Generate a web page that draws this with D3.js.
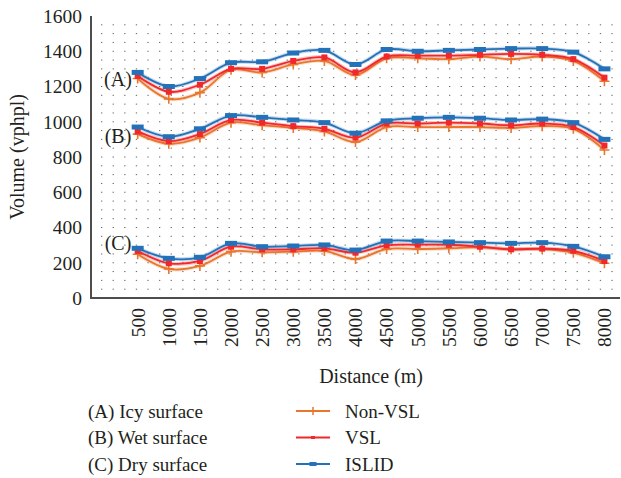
<!DOCTYPE html>
<html>
<head>
<meta charset="utf-8">
<script src="https://cdn.jsdelivr.net/npm/d3@7"></script>
<style>
  body { margin: 0; background: #fff; }
</style>
</head>
<body>
<div id="chart"></div>
<script>
// distances along the corridor (m)
const distances = [500, 1000, 1500, 2000, 2500, 3000, 3500, 4000, 4500, 5000, 5500, 6000, 6500, 7000, 7500, 8000];
const yTicks = [0, 200, 400, 600, 800, 1000, 1200, 1400, 1600];

// (A) icy surface
const icyNonVsl = [1245, 1130, 1165, 1295, 1280, 1325, 1345, 1265, 1360, 1360, 1355, 1370, 1355, 1370, 1345, 1230];
const icyVsl    = [1260, 1170, 1210, 1300, 1300, 1345, 1365, 1280, 1370, 1375, 1375, 1380, 1385, 1380, 1355, 1250];
const icyIslid  = [1280, 1200, 1245, 1335, 1340, 1390, 1405, 1325, 1410, 1400, 1405, 1410, 1415, 1415, 1395, 1300];
// (B) wet surface
const wetNonVsl = [930, 875, 910, 995, 980, 965, 945, 885, 970, 970, 970, 970, 965, 975, 960, 840];
const wetVsl    = [945, 890, 930, 1010, 995, 975, 960, 910, 990, 990, 995, 990, 980, 990, 970, 865];
const wetIslid  = [970, 915, 960, 1035, 1025, 1010, 995, 935, 1005, 1020, 1025, 1020, 1010, 1015, 995, 900];
// (C) dry surface
const dryNonVsl = [248, 165, 182, 263, 259, 263, 267, 221, 278, 278, 282, 287, 276, 278, 257, 197];
const dryVsl    = [267, 197, 210, 291, 276, 276, 282, 257, 299, 302, 302, 291, 276, 280, 268, 210];
const dryIslid  = [282, 225, 231, 310, 291, 295, 301, 272, 323, 323, 318, 314, 310, 314, 293, 234];

const groupLabels = ["(A)", "(B)", "(C)"];
const groupLabelValues = [1240, 920, 310];
const surfaceNames = ["(A) Icy surface", "(B) Wet surface", "(C) Dry surface"];
const seriesNames = ["Non-VSL", "VSL", "ISLID"];

const colors = {"Non-VSL": "#e8762c", "VSL": "#f0282c", "ISLID": "#2371b8"};

const series = [
  {name: "Non-VSL", values: icyNonVsl}, {name: "VSL", values: icyVsl}, {name: "ISLID", values: icyIslid},
  {name: "Non-VSL", values: wetNonVsl}, {name: "VSL", values: wetVsl}, {name: "ISLID", values: wetIslid},
  {name: "Non-VSL", values: dryNonVsl}, {name: "VSL", values: dryVsl}, {name: "ISLID", values: dryIslid}
];

const W = 621, H = 478;
const margin = {top: 16, left: 91, right: 1, bottom: 180};
const width = W - margin.left - margin.right;
const height = H - margin.top - margin.bottom;

const svg = d3.select("#chart").append("svg")
  .attr("width", W)
  .attr("height", H)
  .attr("font-family", "Liberation Serif, DejaVu Serif, serif")
  .attr("fill", "#231f20");

const chart = svg.append("g")
  .attr("transform", `translate(${margin.left},${margin.top})`);

const xScale = d3.scaleLinear().domain([-250, 8250]).range([0, width]);
const yScale = d3.scaleLinear().domain([0, 1600]).range([height, 0]);

// dotted background grid
const gridRows = d3.range(50, 1600, 50);
chart.append("g").selectAll("line")
  .data(gridRows)
  .join("line")
  .attr("x1", 10).attr("x2", width)
  .attr("y1", d => yScale(d)).attr("y2", d => yScale(d))
  .attr("stroke", "#333")
  .attr("stroke-width", 1)
  .attr("stroke-dasharray", "1.3 10.3")
  .attr("opacity", 0.75);

// axes (left + bottom lines only)
chart.append("line")
  .attr("x1", 0).attr("x2", 0).attr("y1", 0).attr("y2", height)
  .attr("stroke", "#4d4d4d").attr("stroke-width", 2);
chart.append("line")
  .attr("x1", -1).attr("x2", width).attr("y1", height).attr("y2", height)
  .attr("stroke", "#4d4d4d").attr("stroke-width", 2.2);

// y tick labels
chart.append("g").selectAll("text")
  .data(yTicks)
  .join("text")
  .attr("x", -9)
  .attr("y", d => yScale(d))
  .attr("dy", "0.35em")
  .attr("text-anchor", "end")
  .attr("font-size", 19.5)
  .text(d => d);

// x tick labels, rotated
chart.append("g").selectAll("text")
  .data(distances)
  .join("text")
  .attr("transform", d => `translate(${xScale(d)},${height + 10}) rotate(-90)`)
  .attr("dy", "0.35em")
  .attr("text-anchor", "end")
  .attr("font-size", 19.5)
  .text(d => d);

// axis titles
svg.append("text")
  .attr("x", margin.left + xScale(4250))
  .attr("y", 383)
  .attr("text-anchor", "middle")
  .attr("font-size", 20)
  .text("Distance (m)");

svg.append("text")
  .attr("transform", `translate(24,${margin.top + height / 2}) rotate(-90)`)
  .attr("text-anchor", "middle")
  .attr("font-size", 20)
  .text("Volume (vphpl)");

// lines
const line = d3.line()
  .x((d, i) => xScale(distances[i]))
  .y(d => yScale(d))
  .curve(d3.curveCatmullRom.alpha(0.5));

const seriesG = chart.append("g").selectAll("g")
  .data(series)
  .join("g");

// soft halo under each line
seriesG.append("path")
  .attr("d", d => line(d.values))
  .attr("fill", "none")
  .attr("stroke", d => colors[d.name])
  .attr("stroke-width", 4)
  .attr("opacity", 0.25);

seriesG.append("path")
  .attr("d", d => line(d.values))
  .attr("fill", "none")
  .attr("stroke", d => colors[d.name])
  .attr("stroke-width", 1.8);

function drawMarker(sel, name, color) {
  if (name === "Non-VSL") {
    sel.append("path")
      .attr("d", "M-5,0H5M0,-5V5")
      .attr("stroke", color).attr("stroke-width", 1.6);
  } else if (name === "VSL") {
    sel.append("rect")
      .attr("x", -3).attr("y", -3).attr("width", 6).attr("height", 6)
      .attr("fill", color);
  } else {
    sel.append("rect")
      .attr("x", -6).attr("y", -2.5).attr("width", 12).attr("height", 5)
      .attr("fill", color);
  }
}

seriesG.each(function(s) {
  d3.select(this).selectAll("g.marker")
    .data(s.values)
    .join("g")
    .attr("class", "marker")
    .attr("transform", (d, i) => `translate(${xScale(distances[i])},${yScale(d)})`)
    .each(function() { drawMarker(d3.select(this), s.name, colors[s.name]); });
});

// group labels
chart.append("g").selectAll("text")
  .data(groupLabels)
  .join("text")
  .attr("x", 27)
  .attr("y", (d, i) => yScale(groupLabelValues[i]))
  .attr("dy", "0.35em")
  .attr("text-anchor", "middle")
  .attr("font-size", 20)
  .text(d => d);

// legend
const legend = svg.append("g");
legend.selectAll("text.surface")
  .data(surfaceNames)
  .join("text")
  .attr("class", "surface")
  .attr("x", 88)
  .attr("y", (d, i) => 411 + i * 26.5)
  .attr("dy", "0.35em")
  .attr("font-size", 19)
  .text(d => d);

const legendItems = legend.selectAll("g.item")
  .data(seriesNames)
  .join("g")
  .attr("class", "item")
  .attr("transform", (d, i) => `translate(296,${411 + i * 26.5})`);

legendItems.append("line")
  .attr("x1", 0).attr("x2", 34)
  .attr("stroke", d => colors[d])
  .attr("stroke-width", 1.8);

legendItems.each(function(d) {
  const m = d3.select(this).append("g").attr("transform", "translate(17,0)");
  if (d === "Non-VSL") {
    m.append("path").attr("d", "M-4,0H4M0,-4V4").attr("stroke", colors[d]).attr("stroke-width", 1.5);
  } else if (d === "VSL") {
    m.append("rect").attr("x", -2).attr("y", -1.5).attr("width", 4).attr("height", 3).attr("fill", colors[d]);
  } else {
    m.append("rect").attr("x", -3.5).attr("y", -2).attr("width", 7).attr("height", 4).attr("fill", colors[d]);
  }
});

legendItems.append("text")
  .attr("x", 49)
  .attr("dy", "0.35em")
  .attr("font-size", 19)
  .text(d => d);
</script>
</body>
</html>
